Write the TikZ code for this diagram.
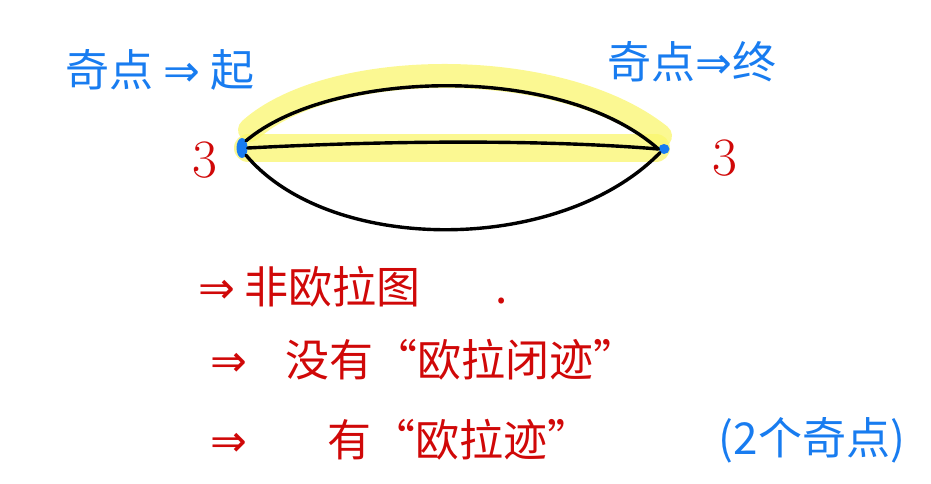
\documentclass[tikz,border=0pt]{standalone}
\usepackage{fontspec}
\newfontfamily\cjk{Noto Sans CJK SC}
\newfontfamily\sym{DejaVu Sans}
\usetikzlibrary{shapes.geometric}
\definecolor{penblue}{RGB}{24,124,240}
\definecolor{penred}{RGB}{208,8,8}
\definecolor{marker}{RGB}{250,246,110}
\tikzset{
  vtx/.style={ellipse,fill=penblue,inner sep=0pt},
  edge/.style={line width=3.4pt,black},
  hilite/.style={line width=24pt,marker,opacity=0.75,line cap=round},
  bluetxt/.style={text=penblue,font=\cjk\fontsize{44}{48}\selectfont,inner sep=0pt},
  redtxt/.style={text=penred,font=\cjk\fontsize{44}{48}\selectfont,anchor=west,inner sep=0pt}
}
\begin{document}
\begin{tikzpicture}[x=1pt,y=-1pt,line join=round, line cap=round]
	\useasboundingbox (0,0) rectangle (931,484);
	\coordinate (A) at (242,148);
	\coordinate (B) at (664,149);
	% yellow marker along the trail
	\draw[hilite] (250,130) .. controls (330,58) and (560,56) .. (660,136);
	\draw[hilite,line width=28pt] (248,148) -- (656,148);
	% vertices
	\node[vtx,minimum width=11pt,minimum height=20pt] (u) at (A) {};
	\node[vtx,minimum width=11pt,minimum height=10pt] (v) at (B) {};
	% three edges
	\draw[edge] (u.north east) .. controls (330,70) and (560,62) .. (v.west);
	\draw[edge] (u.east) .. controls (400,140) and (550,140) .. (v.west);
	\draw[edge] (u.south east) .. controls (330,255) and (560,255) .. (v.south west);
	% degrees
	\draw(205,160) node[text=penred,font=\fontsize{54}{56}\selectfont]{3};
	\draw(725,158) node[text=penred,font=\fontsize{54}{56}\selectfont]{3};
	% labels
	\draw(160,70) node[bluetxt]{奇点 {\sym ⇒} 起};
	\draw(692,62) node[bluetxt]{奇点{\sym ⇒}终};
	\draw(198,287) node[redtxt]{{\sym ⇒} 非欧拉图\hspace{75pt}.};
	\draw(210,360) node[redtxt]{{\sym ⇒}\hspace{38pt}没有“欧拉闭迹”};
	\draw(210,440) node[redtxt]{{\sym ⇒}\hspace{80pt}有“欧拉迹”};
	\draw(812,440) node[bluetxt]{(2个奇点)};
\end{tikzpicture}
\end{document}
